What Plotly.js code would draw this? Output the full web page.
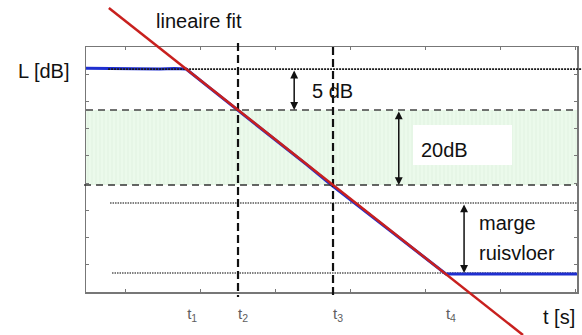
<!DOCTYPE html>
<html><head><meta charset="utf-8">
<script src="https://cdn.plot.ly/plotly-3.0.1.min.js"></script>
<style>html,body{margin:0;padding:0;background:#fff}#chart{width:582px;height:335px}</style>
</head><body><div id="chart"></div>
<script>
// ---- data (schematic units: time 0-100, level 0-100) ----
const tickNames = ['t<sub>1</sub>', 't<sub>2</sub>', 't<sub>3</sub>', 't<sub>4</sub>'];
const tickTimes = [20.6, 30.96, 50.31, 73.3];
const startLevel = 91.0;
const level5 = 74.29;
const level25 = 43.67;
const margeLevel = 36.33;
const floorLevel = 7.76;
const fitTime = [4.66, 89.0];
const fitLevel = [115.9, -17.55];
const measTime = [0, 3, 6, 9, 12, 15, 18, 20.4, 25, 30, 35, 40, 45, 50, 53, 56, 60, 65, 70, 73.3, 78, 83, 88, 93, 100];
const measLevel = [91.3, 91.2, 91.1, 91.3, 91.2, 91.0, 91.2, 91.0, 83.6, 75.7, 67.8, 59.9, 51.9, 43.6, 38.9, 34.2, 28.2, 20.4, 12.4, 7.35, 7.3, 7.4, 7.3, 7.35, 7.3];
const bandTime = [0, 100];
const topLineTime = [4.5, 101];
const margeLineTime = [4.9, 100];
const floorLineTime = [5.3, 100];
const dash5Time = [0, 100];
const dash25Time = [-0.4, 100];
const vLineLevel2 = [101.6, -2.0];
const vLineLevel3 = [100.0, -2.4];
const arrowTimes = [42.4, 63.7, 77.0];

// ---- geometry ----
const W = 582, H = 335;
const pl = 86, pr = 577, pt = 47, pb = 292;
const sx = (pr - pl) / 100, sy = (pb - pt) / 100;
const x2range = [-pl / sx, (W - pl) / sx];
const y2range = [-(H - pb) / sy, pb / sy];
const px = v => v / W, py = v => (H - v) / H;
const FONT = 'Liberation Sans, Arial, sans-serif';

const lineOn2 = (x, y, color, width, dash) => ({
  type: 'scatter', mode: 'lines', x: x, y: y, xaxis: 'x2', yaxis: 'y2',
  line: {color: color, width: width, dash: dash}, hoverinfo: 'skip', showlegend: false
});

const traces = [
  {type: 'scatter', mode: 'lines', x: [bandTime[0], bandTime[1], bandTime[1], bandTime[0], bandTime[0]],
   y: [level5, level5, level25, level25, level5], fill: 'toself',
   fillcolor: '#eafaea',
   fillpattern: {shape: '|', bgcolor: '#ebfaeb', fgcolor: '#d6ecd6', size: 4, solidity: 0.12},
   line: {width: 0}, hoverinfo: 'skip', showlegend: false},
  {type: 'scatter', mode: 'none', x: tickTimes, y: tickTimes.map(() => null), xaxis: 'x3', yaxis: 'y', hoverinfo: 'skip', showlegend: false},
  lineOn2(margeLineTime, [margeLevel, margeLevel], '#555', 1.6, '1.5px,1px'),
  lineOn2(floorLineTime, [floorLevel, floorLevel], '#555', 1.6, '1.5px,1px'),
  lineOn2(measTime, measLevel, '#1f2fd0', 3, 'solid'),
  lineOn2(topLineTime, [startLevel, startLevel], '#1a1a1a', 1.8, '2px,1px'),
  lineOn2(dash5Time, [level5, level5], '#444', 1.6, '7px,5px'),
  lineOn2(dash25Time, [level25, level25], '#333', 1.6, '7px,5px'),
  lineOn2([tickTimes[1], tickTimes[1]], vLineLevel2, '#111', 2.2, '8px,4px'),
  lineOn2([tickTimes[2], tickTimes[2]], vLineLevel3, '#111', 2.2, '8px,4px'),
  lineOn2(fitTime, fitLevel, '#c8201e', 2.5, 'solid')
];

const arrow = (x, y0, y1) => ({
  x: x, y: y1, ax: x, ay: y0, xref: 'x2', yref: 'y2', axref: 'x2', ayref: 'y2',
  text: '', showarrow: true, arrowside: 'end+start', arrowhead: 2, startarrowhead: 2,
  arrowsize: 1.05, startarrowsize: 1.05, arrowwidth: 1.5, arrowcolor: '#111', standoff: 0, startstandoff: 0
});
const label = (text, x, y, anchor) => ({
  text: text, x: px(x), y: py(y), xref: 'paper', yref: 'paper', showarrow: false,
  xanchor: anchor || 'center', yanchor: 'middle', font: {family: FONT, size: 20, color: '#111'}
});

const layout = {
  width: W, height: H,
  margin: {l: 0, r: 0, t: 0, b: 0, pad: 0},
  paper_bgcolor: '#fff', plot_bgcolor: 'rgba(0,0,0,0)',
  showlegend: false,
  xaxis: {domain: [pl / W, pr / W], range: [0, 100], showgrid: false, zeroline: false,
          showline: true, linecolor: '#777', linewidth: 1.5, mirror: 'ticks',
          ticks: 'inside', ticklen: 3, tickcolor: '#777', tickwidth: 1,
          tick0: 39 / sx, dtick: 75 / sx, showticklabels: false, fixedrange: true},
  yaxis: {domain: [(H - pb) / H, (H - pt) / H], range: [0, 100], showgrid: false, zeroline: false,
          showline: true, linecolor: '#777', linewidth: 1.5, mirror: 'ticks',
          ticks: 'inside', ticklen: 3, tickcolor: '#777', tickwidth: 1,
          tick0: 0, dtick: 100 / 9, showticklabels: false, fixedrange: true},
  xaxis3: {overlaying: 'x', anchor: 'y', side: 'bottom', range: [0, 100], showgrid: false, zeroline: false,
           showline: false, ticks: '', tickmode: 'array', tickvals: tickTimes, ticktext: tickNames,
           ticklabelstandoff: 11, ticklabelshift: 5, tickfont: {family: FONT, size: 15, color: '#5e5e5e'}},
  xaxis2: {domain: [0, 1], range: x2range, anchor: 'y2', visible: false, fixedrange: true},
  yaxis2: {domain: [0, 1], range: y2range, anchor: 'x2', visible: false, fixedrange: true},
  shapes: [
    {type: 'rect', xref: 'paper', yref: 'paper', x0: px(413), x1: px(512), y0: py(165), y1: py(125),
     fillcolor: '#ffffff', line: {width: 0}, layer: 'above'}
  ],
  annotations: [
    arrow(arrowTimes[0], startLevel, level5),
    arrow(arrowTimes[1], level5, level25),
    arrow(arrowTimes[2], margeLevel, floorLevel),
    label('lineaire fit', 198.5, 21),
    label('L [dB]', 44, 71),
    label('5 dB', 332.5, 91),
    label('20dB', 444.5, 150),
    label('marge', 477, 223, 'left'),
    label('ruisvloer', 477, 253, 'left'),
    label('t [s]', 558.5, 317)
  ]
};

Plotly.newPlot('chart', traces, layout, {displayModeBar: false, staticPlot: true});
</script>
</body></html>
